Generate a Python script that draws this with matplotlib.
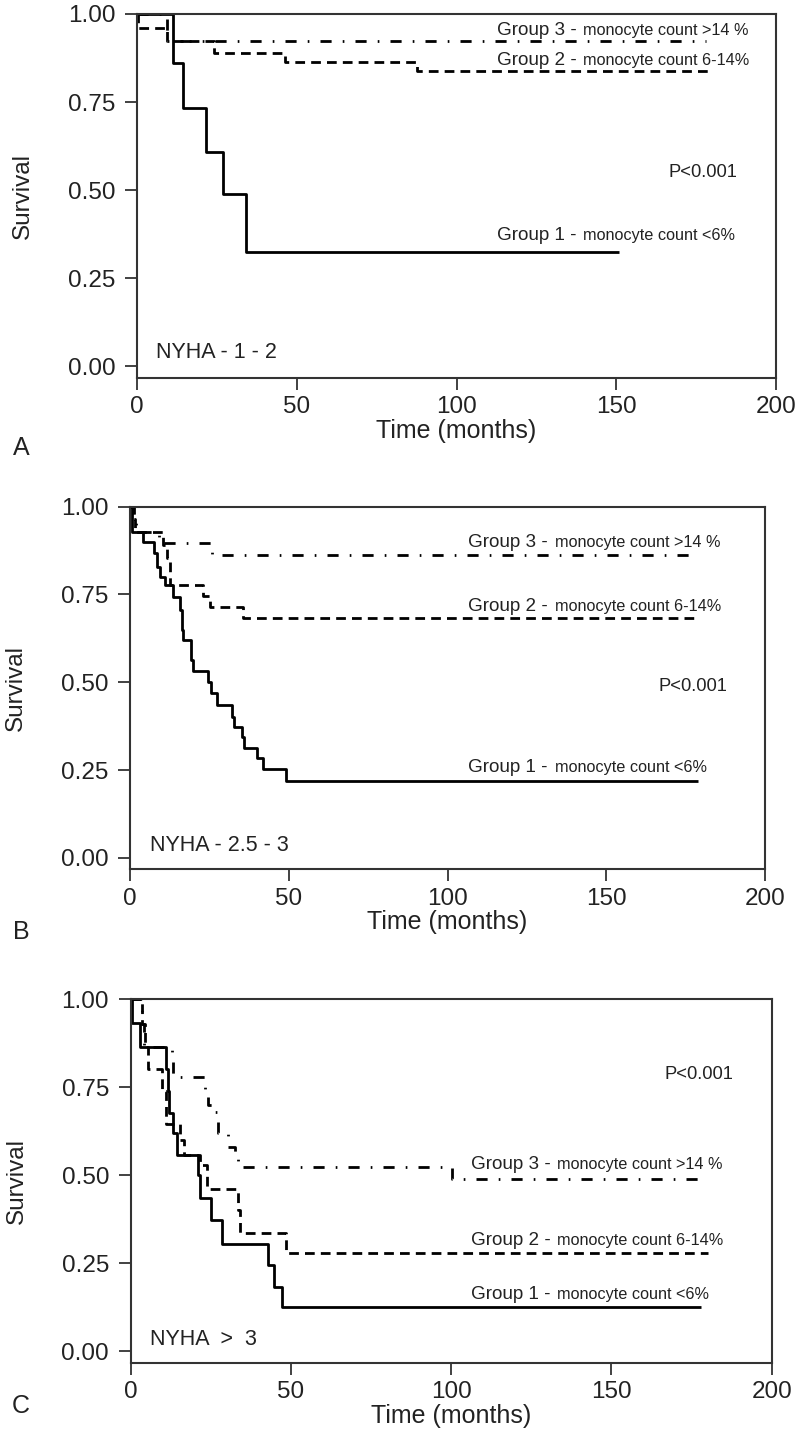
import matplotlib
matplotlib.use("Agg")
import matplotlib.pyplot as plt

plt.rcParams['font.family'] = ['Liberation Sans', 'DejaVu Sans']

# ---------------- data ----------------
# Panel A (NYHA 1-2)
A_g1_t = [0, 11.4, 14.5, 21.5, 27.0, 34.1, 151]
A_g1_s = [1.0, 0.86, 0.734, 0.607, 0.49, 0.325, 0.325]
A_g2_t = [0, 0.3, 9.5, 24.2, 46.3, 87.5, 180]
A_g2_s = [1.0, 0.959, 0.923, 0.888, 0.865, 0.838, 0.838]
A_g3_t = [0, 9.5, 178]
A_g3_s = [1.0, 0.923, 0.923]

# Panel B (NYHA 2.5-3)
B_g1_t = [0, 0.5, 4.2, 7.6, 8.4, 9.5, 11.0, 13.7, 15.8, 16.3, 16.8, 19.1, 19.7,
          24.7, 25.4, 27.5, 32.0, 32.9, 35.4, 35.9, 40.1, 42.0, 49.0, 179]
B_g1_s = [1.0, 0.929, 0.90, 0.867, 0.829, 0.80, 0.777, 0.744, 0.706, 0.649, 0.62,
          0.563, 0.532, 0.50, 0.468, 0.435, 0.402, 0.373, 0.345, 0.312, 0.283,
          0.253, 0.219, 0.219]
B_g2_t = [0, 0.8, 1.5, 10.5, 11.5, 12.6, 23.1, 25.2, 35.7, 178]
B_g2_s = [1.0, 0.965, 0.929, 0.89, 0.855, 0.777, 0.745, 0.714, 0.682, 0.682]
B_g3_t = [0, 1.2, 1.8, 9.0, 25.8, 179]
B_g3_s = [1.0, 0.965, 0.929, 0.896, 0.862, 0.862]

# Panel C (NYHA > 3)
C_g1_t = [0, 0.3, 2.9, 11.0, 11.5, 12.0, 13.3, 14.3, 21.0, 21.6, 25.0, 28.6,
          42.7, 44.7, 47.1, 178]
C_g1_s = [1.0, 0.931, 0.865, 0.80, 0.74, 0.676, 0.619, 0.558, 0.50, 0.435,
          0.374, 0.305, 0.246, 0.184, 0.126, 0.126]
C_g2_t = [0, 3.4, 4.5, 5.5, 9.7, 11.0, 15.5, 16.5, 21.5, 23.7, 33.6, 34.0, 48.5, 180]
C_g2_s = [1.0, 0.93, 0.865, 0.80, 0.74, 0.645, 0.60, 0.557, 0.53, 0.46, 0.40,
          0.337, 0.279, 0.279]
C_g3_t = [0, 3.5, 4.3, 12.8, 13.2, 23.2, 24.0, 25.5, 27.1, 30.5, 32.5, 33.6, 100.2, 179]
C_g3_s = [1.0, 0.93, 0.865, 0.82, 0.778, 0.74, 0.70, 0.68, 0.62, 0.58, 0.55,
          0.523, 0.49, 0.49]

x_ticks = [0, 50, 100, 150, 200]
y_ticks = [0.0, 0.25, 0.5, 0.75, 1.0]
y_ticklabels = ['0.00', '0.25', '0.50', '0.75', '1.00']

group_names = ['Group 1 -', 'Group 2 -', 'Group 3 -']
group_desc = ['monocyte count <6%', 'monocyte count 6-14%', 'monocyte count >14 %']
nyha_labels = ['NYHA - 1 - 2', 'NYHA - 2.5 - 3', 'NYHA  >  3']
panel_letters = ['A', 'B', 'C']
p_text = 'P<0.001'

# ---------------- layout (pixels) ----------------
W, H = 800, 1437
fig = plt.figure(figsize=(W / 100, H / 100), dpi=100)

def px_axes(left, right, top, bottom):
    return fig.add_axes([left / W, 1 - bottom / H, (right - left) / W, (bottom - top) / H])

panels = [
    dict(box=(137, 776, 14, 378), data=[(A_g1_t, A_g1_s), (A_g2_t, A_g2_s), (A_g3_t, A_g3_s)],
         gx1=112.6, gx2=139.7, gy=[0.358, 0.855, 0.94], py=0.537, ny=0.023, nx=5.9, lab=70),
    dict(box=(130, 765, 506.7, 869.4), data=[(B_g1_t, B_g1_s), (B_g2_t, B_g2_s), (B_g3_t, B_g3_s)],
         gx1=106.6, gx2=133.9, gy=[0.245, 0.704, 0.884], py=0.476, ny=0.019, nx=6.3, lab=63),
    dict(box=(130.7, 771.7, 999, 1363), data=[(C_g1_t, C_g1_s), (C_g2_t, C_g2_s), (C_g3_t, C_g3_s)],
         gx1=106.1, gx2=133.1, gy=[0.149, 0.302, 0.517], py=0.773, ny=0.017, nx=6.0, lab=43),
]

styles = [
    dict(linestyle='-', lw=2.0),
    dict(linestyle=(0, (3.5, 2.2)), lw=2.0),
    dict(linestyle=(0, (4, 4, 0.6, 4)), lw=2.0),
]

txt_color = '#222222'
frame_color = '#333333'

for i, p in enumerate(panels):
    l, r, t, b = p['box']
    ax = px_axes(l, r, t, b)
    for (tt, ss), st in zip(p['data'], styles):
        ax.step(tt, ss, where='post', color='black', solid_capstyle='butt',
                dash_capstyle='butt', clip_on=False, **st)
    ax.set_xlim(0, 200)
    ax.set_ylim(-0.033, 1.0)
    ax.set_xticks(x_ticks)
    ax.set_xticklabels([str(v) for v in x_ticks])
    ax.set_yticks(y_ticks)
    ax.set_yticklabels(y_ticklabels)
    ax.tick_params(direction='out', length=8.6, width=1.3, colors=frame_color,
                   labelcolor=txt_color, labelsize=17.5)
    ax.tick_params(axis='x', pad=4.5)
    ax.tick_params(axis='y', pad=7)
    for s in ax.spines.values():
        s.set_linewidth(1.5)
        s.set_color(frame_color)

    for k in range(3):
        ax.text(p['gx1'], p['gy'][k], group_names[k], fontsize=13.6, color=txt_color,
                ha='left', va='baseline')
        ax.text(p['gx2'], p['gy'][k], group_desc[k], fontsize=11.7, color=txt_color,
                ha='left', va='baseline')
    ax.text(188, p['py'], p_text, fontsize=13.2, color=txt_color, ha='right', va='baseline')
    ax.text(p['nx'], p['ny'], nyha_labels[i], fontsize=15.5, color=txt_color,
            ha='left', va='baseline')

    # axis labels
    fig.text((l - 114) / W, 1 - ((t + b) / 2) / H, 'Survival', rotation=90,
             fontsize=17.5, color=txt_color, ha='center', va='center')
    fig.text(((l + r) / 2) / W, 1 - (b + 53) / H, 'Time (months)',
             fontsize=18, color=txt_color, ha='center', va='center')
    fig.text(21 / W, 1 - (b + p['lab']) / H, panel_letters[i], fontsize=18,
             color=txt_color, ha='center', va='center')

fig.savefig('out.png', dpi=100, facecolor='white')
